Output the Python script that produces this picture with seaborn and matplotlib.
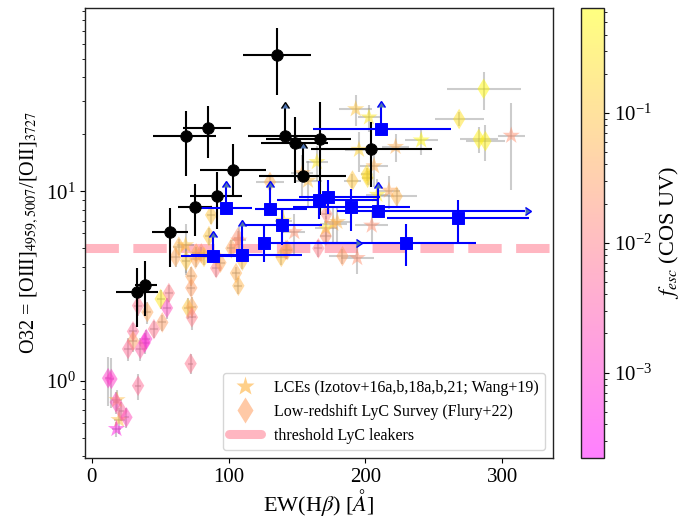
import numpy as np
import matplotlib
matplotlib.use('Agg')
import matplotlib.pyplot as plt
import seaborn as sns
from matplotlib.colors import LogNorm, ListedColormap
from matplotlib.lines import Line2D
from matplotlib.cm import ScalarMappable

sns.set_theme(style="ticks", rc={
    "xtick.major.size": 3.5, "ytick.major.size": 3.5,
    "xtick.minor.size": 2.0, "ytick.minor.size": 2.0,
    "xtick.major.width": 0.8, "ytick.major.width": 0.8,
    "xtick.minor.width": 0.6, "ytick.minor.width": 0.6,
    "axes.linewidth": 1.0, "axes.edgecolor": "#222222",
    "text.color": "black", "axes.labelcolor": "black",
    "xtick.color": "black", "ytick.color": "black",
})
plt.rcParams['font.family'] = ['Liberation Serif', 'DejaVu Serif']
plt.rcParams['mathtext.fontset'] = 'stix'

# ---- black circles (this work) ----
bk_x = [135.3, 68.5, 84.8, 103.3, 91.6, 75.6, 57.1, 33.0, 38.9, 140.9, 148.7, 167.1, 154.0, 204.0]
bk_y = [52.7, 19.5, 21.6, 13.0, 9.4, 8.3, 6.1, 2.93, 3.2, 19.7, 17.9, 18.8, 12.1, 16.8]
bk_xlo = [25, 23.5, 17.8, 24.3, 19.6, 12.6, 13, 15, 7.6, 27, 24.7, 40, 32, 44]
bk_xhi = [25, 22.5, 17.2, 23.7, 18.4, 12.4, 13, 15, 8.7, 27, 24.3, 22, 32, 45]
bk_ylo = [20.3, 7.4, 6.6, 3.6, 3.1, 2.5, 2.1, 1.0, 1.0, 0, 6.9, 11.3, 0, 6.2]
bk_yhi = [20.3, 7.2, 6.5, 4.7, 3.3, 2.6, 2.1, 1.0, 1.1, 8.0, 6.8, 10.7, 4.9, 6.4]
bk_lolim = [False, False, False, False, False, False, False, False, False, True, False, False, True, False]

# ---- blue squares ----
bl_x = [211.4, 98.2, 130.0, 166.2, 172.5, 189.3, 209.2, 267.5, 139.0, 126.1, 229.8, 88.4, 109.6]
bl_y = [21.4, 8.17, 8.07, 9.0, 9.3, 8.27, 7.85, 7.22, 6.6, 5.33, 5.33, 4.54, 4.63]
bl_xlo = [50, 19, 11, 31, 21, 42, 30, 52, 29.5, 0, 65, 23, 37]
bl_xhi = [51, 19, 27, 44, 38, 43, 107.6, 52, 29, 67, 51, 17, 44]
bl_ylo = [0, 0, 0, 1.9, 1.7, 2.1, 0, 1.9, 1.4, 1.1, 1.3, 0, 0]
bl_yhi = [6.6, 2.4, 2.5, 2.3, 2.2, 2.0, 2.6, 1.8, 1.6, 1.2, 1.4, 1.2, 1.9]
bl_ylolim = [True, True, True, False, False, False, True, False, False, False, False, True, True]
bl_xlolim = [False, False, False, False, False, False, True, False, False, True, False, False, False]

# ---- LCEs (stars) ----
st_x = [192.9, 202.6, 240.8, 195.3, 222.0, 206.3, 164.5, 158.0, 153.8, 306.6, 217.2, 208.7,
        148.0, 176.5, 179.5, 171.0, 204.6, 194.0, 107.4, 68.5, 18.4, 19.9, 18.0, 140.0]
st_y = [27.2, 24.6, 18.6, 16.6, 17.2, 13.6, 14.3, 11.4, 12.5, 19.7, 10.1, 9.6,
        6.1, 6.75, 6.9, 6.4, 6.6, 4.45, 5.5, 5.2, 0.79, 0.62, 0.556, 7.0]
st_f = [0.1, 0.3, 0.5, 0.15, 0.05, 0.05, 0.3, 0.08, 0.05, 0.02, 0.04, 0.3,
        0.02, 0.05, 0.06, 0.2, 0.02, 0.02, 0.02, 0.1, 0.08, 0.08, 0.0005, 0.2]
st_xerr = [12, 8, 12, 10, 10, 10, 8, 10, 8, 10, 8, 8,
           8, 10, 10, 8, 12, 12, 5, 6, 4, 4, 3, 6]
st_yerr = [5, 4, 3, 4, 3, 3, 3, 3, 3, 9.5, 2, 2,
           1.5, 1.5, 1.5, 1, 1.2, 0.8, 1, 1.5, 0.1, 0.1, 0.05, 1]

# ---- Flury+22 (diamonds) ----
dm_x = [286.4, 268.5, 282.8, 287.7, 130.2, 190.5, 201.6, 222.8, 87.2, 85.6,
        171.0, 165.6, 171.5, 183.2, 138.5, 141.9, 143.0, 102.0, 63.6, 61.2,
        69.0, 72.7, 72.7, 76.3, 80.0, 82.0, 90.9, 94.0, 106.7, 105.4,
        107.1, 110.0, 50.3, 56.3, 54.9, 33.8, 40.6, 70.2, 73.1, 73.1,
        51.5, 45.4, 39.8, 38.5, 30.1, 30.1, 26.5, 35.5, 72.2, 33.8,
        11.9, 14.3, 17.5, 21.6, 25.3, 75.8, 201.0]
dm_y = [34.8, 24.1, 18.9, 18.4, 11.2, 11.4, 11.8, 9.4, 7.5, 5.8,
        5.8, 5.0, 7.6, 4.55, 4.5, 4.9, 4.9, 5.0, 5.1, 4.5,
        4.3, 3.56, 3.09, 4.7, 4.7, 4.5, 3.93, 4.2, 5.7, 3.7,
        3.17, 4.3, 2.70, 2.90, 2.42, 2.49, 2.30, 2.42, 2.45, 2.16,
        2.03, 1.87, 1.66, 1.58, 1.82, 1.62, 1.47, 1.47, 1.23, 0.94,
        1.03, 1.02, 0.77, 0.69, 0.64, 4.4, 12.3]
dm_f = [0.5, 0.25, 0.4, 0.4, 0.05, 0.1, 0.2, 0.06, 0.1, 0.1,
        0.02, 0.01, 0.015, 0.03, 0.08, 0.02, 0.04, 0.04, 0.06, 0.04,
        0.1, 0.04, 0.03, 0.04, 0.02, 0.1, 0.01, 0.04, 0.02, 0.05,
        0.06, 0.08, 0.3, 0.01, 0.002, 0.008, 0.04, 0.1, 0.04, 0.01,
        0.03, 0.008, 0.001, 0.0008, 0.006, 0.03, 0.006, 0.004, 0.008, 0.006,
        0.0012, 0.0012, 0.002, 0.005, 0.002, 0.04, 0.2]
dm_xerr = [27, 18, 14, 14, 10, 6, 4, 15, 3, 3,
           4, 3, 3, 10, 4, 3, 3, 3, 4, 3,
           3, 3, 3, 3, 3, 3, 3, 3, 3, 3,
           3, 3, 3, 3, 3, 3, 3, 3, 3, 3,
           3, 3, 3, 3, 3, 3, 3, 3, 2, 2,
           2, 2, 2, 2, 2, 3, 4]
dm_yerr = [8, 2, 3, 4, 1, 1, 1, 1, 0.8, 0.6,
           0.5, 0.5, 0.5, 0.4, 0.4, 0.5, 0.5, 0.5, 0.5, 0.5,
           0.7, 0.4, 0.3, 0.4, 0.4, 0.4, 0.4, 0.4, 0.5, 0.3,
           0.3, 0.4, 0.3, 0.3, 0.3, 0.3, 0.3, 0.3, 0.3, 0.3,
           0.2, 0.2, 0.2, 0.2, 0.2, 0.2, 0.2, 0.2, 0.15, 0.15,
           0.3, 0.3, 0.1, 0.08, 0.08, 0.4, 1.0]

threshold = 5.0
fesc_min, fesc_max = 2.2e-4, 0.64

fig = plt.figure(figsize=(6.8, 5.19), dpi=100)
ax = fig.add_axes([0.125, 0.1175, 0.688, 0.8671])
cax = fig.add_axes([0.854, 0.1175, 0.034, 0.8671])
ax.set_yscale('log')

norm = LogNorm(vmin=fesc_min, vmax=fesc_max)

# threshold line
ax.axhline(threshold, color='lightpink', lw=6.5, ls='--', zorder=1)

# colour-coded literature samples
ax.errorbar(st_x, st_y, xerr=st_xerr, yerr=st_yerr, fmt='none', ecolor='grey',
            alpha=0.4, lw=1.5, zorder=1.5)
ax.errorbar(dm_x, dm_y, xerr=dm_xerr, yerr=dm_yerr, fmt='none', ecolor='grey',
            alpha=0.4, lw=1.5, zorder=1.5)
sns.scatterplot(x=st_x, y=st_y, hue=st_f, hue_norm=norm, palette='spring', marker='*',
                s=170, alpha=0.5, linewidth=0, legend=False, ax=ax, zorder=2)
sns.scatterplot(x=dm_x, y=dm_y, hue=dm_f, hue_norm=norm, palette='spring', marker='d',
                s=110, alpha=0.5, linewidth=0, legend=False, ax=ax, zorder=2)

# black circles
ax.errorbar(bk_x, bk_y, xerr=[bk_xlo, bk_xhi], yerr=[bk_ylo, bk_yhi], lolims=bk_lolim,
            fmt='none', ecolor='black', lw=1.5, zorder=3)
sns.scatterplot(x=bk_x, y=bk_y, color='black', edgecolor='black', marker='o', s=68,
                legend=False, ax=ax, zorder=4)

# blue squares
ax.errorbar(bl_x, bl_y, xerr=[bl_xlo, bl_xhi], yerr=[bl_ylo, bl_yhi],
            lolims=bl_ylolim, xlolims=bl_xlolim,
            fmt='none', ecolor='blue', lw=1.5, zorder=3)
lim_idx = [i for i, v in enumerate(bl_xlolim) if v]
ax.errorbar([bl_x[i] for i in lim_idx], [bl_y[i] for i in lim_idx],
            xerr=[[bl_xlo[i] for i in lim_idx], [0] * len(lim_idx)],
            fmt='none', ecolor='blue', lw=1.5, zorder=3)
sns.scatterplot(x=bl_x, y=bl_y, color='blue', edgecolor='blue', marker='s', s=72,
                legend=False, ax=ax, zorder=4)

ax.set_xlim(-5, 337)
ax.set_ylim(0.39, 93)
ax.set_xticks([0, 100, 200, 300])
ax.tick_params(axis='both', which='major', labelsize=15)
ax.set_xlabel(r'EW(H$\beta$) [$\AA$]', fontsize=16, labelpad=0)
ax.set_ylabel(r'O32 = [OIII]$_{4959,5007}$/[OII]$_{3727}$', fontsize=14.5, labelpad=3)

handles = [
    Line2D([], [], ls='none', marker='*', ms=14, color='#ffd08a', mec='none'),
    Line2D([], [], ls='none', marker='d', ms=13, color='#ffc9a6', mec='none'),
    Line2D([], [], color='lightpink', lw=6.5),
]
labels = ['LCEs (Izotov+16a,b,18a,b,21; Wang+19)',
          'Low-redshift LyC Survey (Flury+22)',
          'threshold LyC leakers']
ax.legend(handles, labels, loc='lower right', fontsize=11.5, frameon=True)

# colourbar with the washed-out spring colours
base = plt.get_cmap('spring')(np.linspace(0, 1, 256))
pale = base.copy()
pale[:, :3] = 0.5 * base[:, :3] + 0.5
pale_cmap = ListedColormap(pale)
sm = ScalarMappable(norm=norm, cmap=pale_cmap)
cb = fig.colorbar(sm, cax=cax)
cb.ax.tick_params(labelsize=15)
cb.set_label(r'$f_{esc}$ (COS UV)', fontsize=16)

fig.savefig('out.png', dpi=100)
